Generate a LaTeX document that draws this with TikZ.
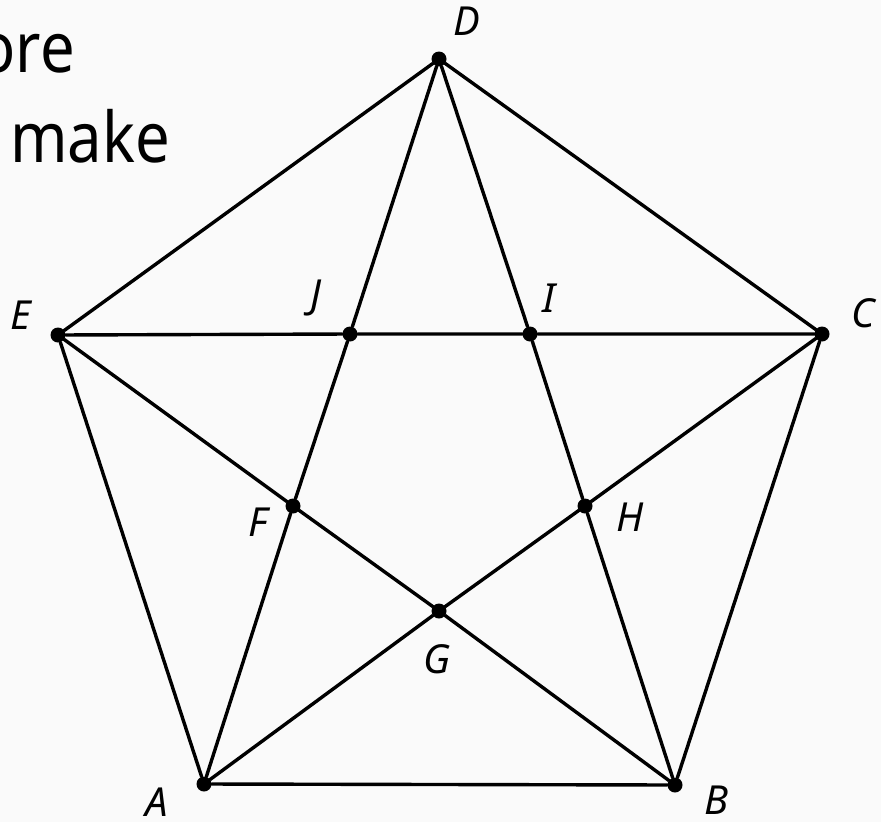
\documentclass[tikz,border=0pt]{standalone}
\usepackage{fontspec}
\setmainfont{Noto Sans}
\newfontfamily\narrowsans[FakeStretch=0.88]{Noto Sans}
\usetikzlibrary{positioning,calc}
\definecolor{paper}{RGB}{250,250,250}

\begin{document}
\begin{tikzpicture}[
  x=1pt, y=-1pt,
  dot/.style={circle, fill=black, inner sep=0pt, minimum size=15pt},
  lbl/.style={font=\fontsize{40}{44}\selectfont\itshape, inner sep=0pt},
  txt/.style={font=\narrowsans\fontsize{70}{80}\selectfont, inner sep=0pt},
  edge/.style={line width=3.4pt, line cap=round},
]
\fill[paper] (0,0) rectangle (881,822);
\useasboundingbox (0,0) rectangle (881,822);

% outer pentagon
\node[dot] (A) at (204,784) {};
\node[dot] (B) at (675,785) {};
\node[dot] (C) at (822,334) {};
\node[dot] (D) at (439,59) {};
\node[dot] (E) at (58,335) {};
% inner points
\node[dot] (F) at (293,506) {};
\node[dot] (G) at (439,611) {};
\node[dot] (H) at (585,506) {};
\node[dot] (I) at (530,334) {};
\node[dot] (J) at (350,334) {};

\node[lbl] (lA) at (157,802) {A};
\node[lbl] (lB) at (716,800) {B};
\node[lbl] (lC) at (863,313) {C};
\node[lbl] (lD) at (467,21) {D};
\node[lbl] (lE) at (21,315) {E};
\node[lbl] (lF) at (258,522) {F};
\node[lbl] (lG) at (437,659) {G};
\node[lbl] (lH) at (630,517) {H};
\node[lbl] (lI) at (549,298) {I};
\node[lbl] (lJ) at (316,298) {J};

\draw[edge] (A) -- (B) -- (C) -- (D) -- (E) -- (A);
\draw[edge] (A) -- (F) -- (J) -- (D);
\draw[edge] (A) -- (G) -- (H) -- (C);
\draw[edge] (B) -- (H) -- (I) -- (D);
\draw[edge] (B) -- (G) -- (F) -- (E);
\draw[edge] (E) -- (J) -- (I) -- (C);

% cut-off text at the top left
\node[txt, anchor=base east] (t1) at (75,72) {ore};
\node[txt, anchor=base west] (t2) at (10,162) {make};
\end{tikzpicture}
\end{document}
